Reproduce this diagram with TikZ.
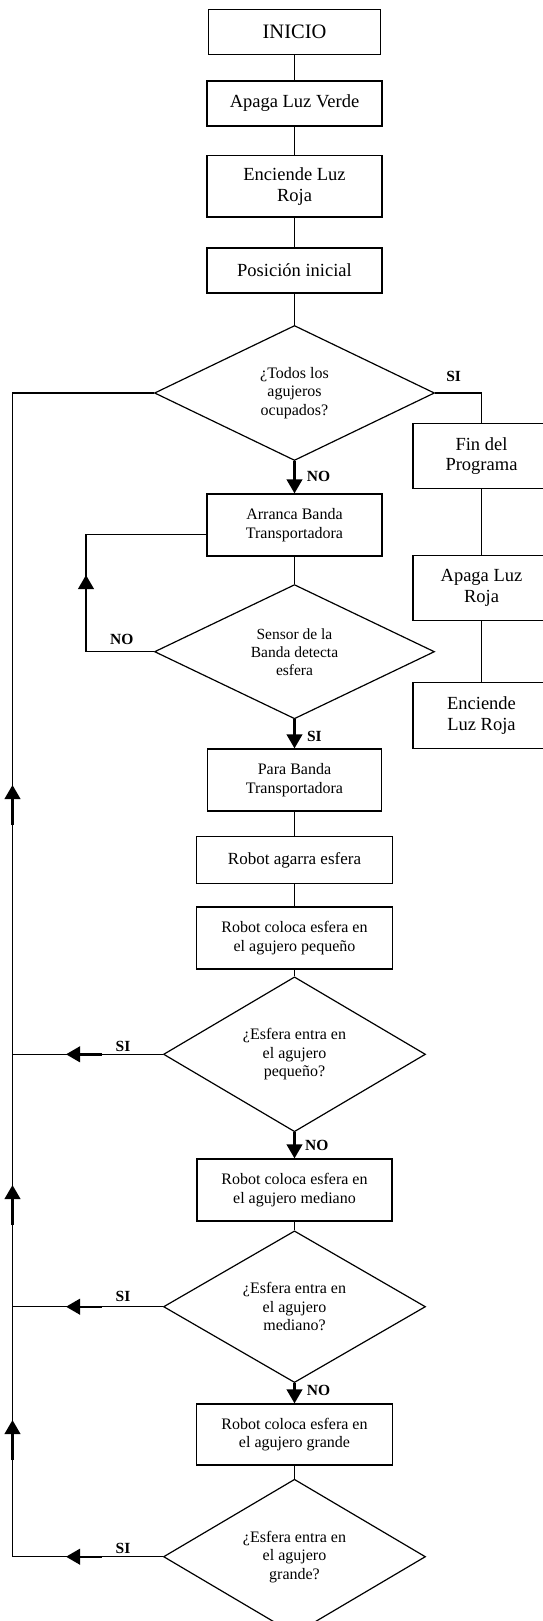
\documentclass[tikz,border=0pt]{standalone}
\usepackage{fontspec}
\setmainfont{Liberation Serif}
\usetikzlibrary{shapes.geometric,arrows.meta,calc}
\begin{document}
\begin{tikzpicture}[x=1pt,y=-1pt,
  every node/.style={inner sep=0pt, align=center},
  proc/.style={draw, line width=1.2pt, rectangle},
  big/.style={font=\fontsize{18.5}{20.8}\selectfont},
  med/.style={font=\fontsize{16}{18.6}\selectfont},
  dia/.style={draw, line width=1.2pt, diamond, font=\fontsize{16}{18.6}\selectfont},
  lbl/.style={font=\fontsize{15.5}{18}\selectfont\bfseries},
  conn/.style={line width=1.1pt},
  arr/.style={line width=2.4pt, -{Triangle[length=14pt,width=15.5pt]}}]
\useasboundingbox (0,0) rectangle (543,1621);
\clip (0,0) rectangle (543,1621);

% main column
\node[proc, minimum width=172pt, minimum height=45pt, font=\fontsize{20.5}{23}\selectfont] (inicio) at (294.5,31.8) {INICIO};
\node[proc, big, minimum width=175pt, minimum height=45pt] (apv) at (294.5,103.5) {Apaga Luz Verde};
\node[proc, big, minimum width=175pt, minimum height=61.7pt] (elr) at (294.5,186.2) {Enciende Luz\\Roja};
\node[proc, big, minimum width=175pt, minimum height=45pt] (pos) at (294.5,270.5) {Posición inicial};
\node[dia, minimum width=280pt, minimum height=135pt] (d1) at (294.5,393) {¿Todos los\\agujeros\\ocupados?};

% right column
\node[proc, big, minimum width=137pt, minimum height=65.7pt] (fin) at (481.5,456) {Fin del\\Programa};
\node[proc, big, minimum width=137pt, minimum height=65pt] (alr) at (481.5,588) {Apaga Luz\\Roja};
\node[proc, big, minimum width=137pt, minimum height=65.6pt] (elr2) at (481.5,715.5) {Enciende\\Luz Roja};

\node[proc, med, minimum width=175pt, minimum height=62pt] (arr) at (294.5,525) {Arranca Banda\\Transportadora};
\node[dia, font=\fontsize{15.5}{18}\selectfont, minimum width=280pt, minimum height=125pt] (d2) at (294.5,651.7) {Sensor de la\\Banda detecta\\esfera};
\node[proc, med, minimum width=174pt, minimum height=62pt] (para) at (294.5,780) {Para Banda\\Transportadora};
\node[proc, font=\fontsize{17}{19.5}\selectfont, minimum width=196pt, minimum height=47pt] (agarra) at (294.5,860) {Robot agarra esfera};
\node[proc, med, minimum width=196pt, minimum height=62pt] (peq) at (294.5,938) {Robot coloca esfera en\\el agujero pequeño};
\node[dia, minimum width=262pt, minimum height=130pt] (d3) at (294.5,1054.3) {¿Esfera entra en\\el agujero\\pequeño?};
\node[proc, med, minimum width=195pt, minimum height=62pt] (medb) at (294.5,1190) {Robot coloca esfera en\\el agujero mediano};
\node[dia, minimum width=262pt, minimum height=130pt] (d4) at (294.5,1306.7) {¿Esfera entra en\\el agujero\\mediano?};
\node[proc, med, minimum width=196pt, minimum height=61pt] (gra) at (294.5,1434.5) {Robot coloca esfera en\\el agujero grande};
\node[dia, minimum width=262pt, minimum height=135pt] (d5) at (294.5,1556.7) {¿Esfera entra en\\el agujero\\grande?};

% labels
\node[lbl] (s1) at (453.6,376) {SI};
\node[lbl] (n1) at (318.6,476.7) {NO};
\node[lbl] (n2) at (121.7,639) {NO};
\node[lbl] (s2) at (314.4,736.7) {SI};
\node[lbl] (s3) at (123,1046.5) {SI};
\node[lbl] (n3) at (316.8,1145) {NO};
\node[lbl] (s4) at (123,1296.7) {SI};
\node[lbl] (n4) at (318.6,1390.7) {NO};
\node[lbl] (s5) at (123,1548.3) {SI};

% helper coordinates
\coordinate (lx) at (12.5,0);
\coordinate (lpx) at (86,0);
\coordinate (lpin) at ([yshift=-9.3pt]arr.west);

% plain connectors
\draw[conn] (inicio) -- (apv);
\draw[conn] (apv) -- (elr);
\draw[conn] (elr) -- (pos);
\draw[conn] (pos) -- (d1.north);
\draw[conn] (d1.east) -| (fin.north);
\draw[conn] (fin) -- (alr);
\draw[conn] (alr) -- (elr2);
\draw[conn] (arr) -- (d2.north);
\draw[conn] (para) -- (agarra);
\draw[conn] (agarra) -- (peq);
\draw[conn] (peq) -- (d3.north);
\draw[conn] (medb) -- (d4.north);
\draw[conn] (gra) -- (d5.north);

% NO loop of sensor
\draw[conn] (d2.west) -| (lpx |- lpin) -- (lpin);
\draw[arr] (86,603) -- (86,575);

% big return line
\draw[conn] (d5.west) -| (lx |- d1.west) -- (d1.west);
\draw[conn] (d3.west) -- (d3.west -| lx);
\draw[conn] (d4.west) -- (d4.west -| lx);
\draw[arr] (12.5,825) -- (12.5,785);
\draw[arr] (12.5,1225) -- (12.5,1185);
\draw[arr] (12.5,1460) -- (12.5,1420);
\draw[arr] (101.7,1054.3) -- (66,1054.3);
\draw[arr] (101.7,1306.7) -- (66,1306.7);
\draw[arr] (101.7,1556.7) -- (66,1556.7);

% downward arrows
\draw[arr] (d1.south) -- (arr.north);
\draw[arr] (d2.south) -- (para.north);
\draw[arr] (d3.south) -- (medb.north);
\draw[arr] (d4.south) -- (gra.north);
\end{tikzpicture}
\end{document}
